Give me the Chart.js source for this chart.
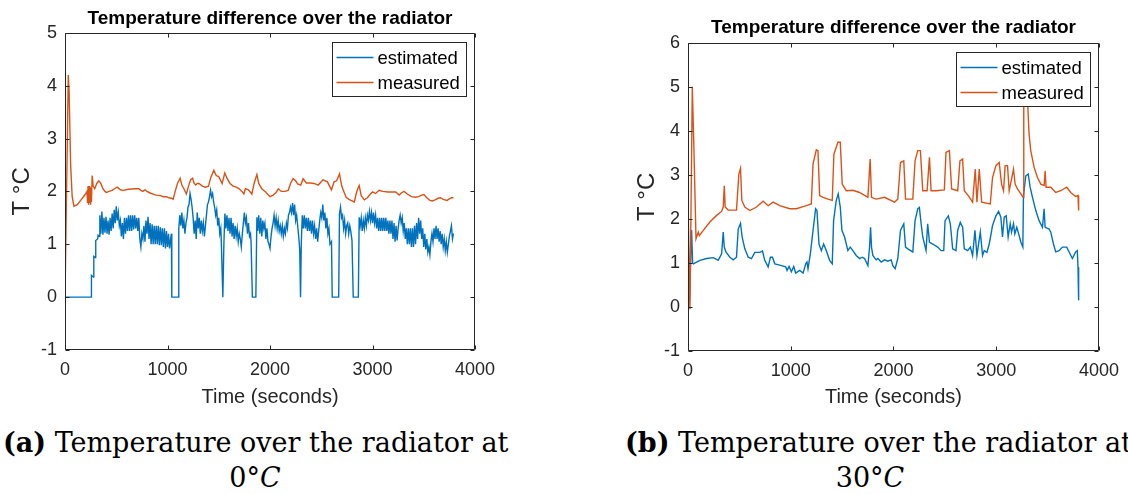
<!DOCTYPE html>
<html>
<head>
<meta charset="utf-8">
<script src="https://cdn.jsdelivr.net/npm/chart.js@4.4.1/dist/chart.umd.min.js"></script>
<style>
html,body{margin:0;padding:0;background:#fff;width:1128px;height:494px;overflow:hidden;position:relative;}
.panel{position:absolute;top:0;width:564px;height:420px;}
#panelA{left:0;}
#panelB{left:564px;}
.cap{position:absolute;font-family:"DejaVu Serif",serif;font-size:27px;line-height:30px;color:#000;white-space:nowrap;}
.cap.mid{text-align:center;width:200px;}
</style>
</head>
<body>
<div class="panel" id="panelA"><canvas id="chartA" width="564" height="420"></canvas></div>
<div class="panel" id="panelB"><canvas id="chartB" width="564" height="420"></canvas></div>
<div class="cap" style="left:3px;top:428px;"><b>(a)</b> Temperature over the radiator at</div>
<div class="cap mid" style="left:155px;top:463px;">0°<i>C</i></div>
<div class="cap" style="left:625px;top:428px;"><b>(b)</b> Temperature over the radiator at</div>
<div class="cap mid" style="left:770px;top:463px;">30°<i>C</i></div>
<script>
// [time (s), delta T (°C)] samples, run at 0 °C
const estA = [
  [0,0],[255,0],[258,0.41],[278,0.38],[281,0.77],[296,0.75],[300,1.07],[318,1.1],[323,1.17],[333,1.15],
  [340,1.55],[350,1.2],[360,1.62],[370,1.18],[380,1.5],[390,1.22],[400,1.52],[410,1.2],[420,1.45],[430,1.18],
  [440,1.5],[450,1.25],[460,1.58],[470,1.3],[480,1.65],[490,1.4],[500,1.72],[510,1.45],[520,1.6],[530,1.35],
  [540,1.45],[550,1.15],[560,1.4],[570,1.1],[580,1.5],[590,1.2],[600,1.5],[610,1.25],[620,1.55],[630,1.25],
  [640,1.55],[650,1.25],[660,1.55],[670,1.28],[680,1.55],[690,1.3],[700,1.5],[710,1.25],[720,1.5],[730,1.1],
  [740,0.95],[750,1.2],[760,1.1],[770,1.35],[780,1.05],[790,1.45],[800,1.2],[810,1.52],[820,1.1],[830,1.4],
  [840,1.0],[850,1.38],[860,1.0],[870,1.35],[880,1.0],[890,1.35],[900,1.0],[910,1.35],[920,0.98],[930,1.32],
  [940,0.98],[950,1.3],[960,0.95],[970,1.3],[980,0.92],[990,1.25],[1000,0.95],[1010,1.2],[1020,0.92],[1030,1.1],
  [1038,1.2],[1042,0],[1105,0],[1110,1.3],[1120,1.55],[1130,1.35],[1140,1.6],[1150,1.3],[1160,1.45],[1170,1.2],
  [1180,1.4],[1190,1.5],[1200,1.7],[1210,1.75],[1220,1.96],[1230,1.85],[1240,1.7],[1250,1.5],[1260,1.2],[1270,1.45],
  [1280,1.1],[1290,1.6],[1300,1.3],[1310,1.5],[1320,1.2],[1330,1.45],[1340,1.25],[1350,1.4],[1360,1.15],[1370,1.35],
  [1380,1.55],[1390,1.75],[1400,1.8],[1410,1.9],[1420,2.02],[1430,1.9],[1440,1.96],[1450,1.8],[1460,1.7],[1470,1.55],
  [1480,1.65],[1490,1.35],[1500,1.5],[1510,1.2],[1520,1.3],[1525,1.05],[1540,0],[1550,1.0],[1560,1.58],[1570,1.3],
  [1580,1.55],[1590,1.25],[1600,1.5],[1610,1.2],[1620,1.5],[1630,1.15],[1640,1.4],[1650,1.1],[1660,1.35],[1670,1.15],
  [1680,1.3],[1690,1.05],[1700,1.2],[1710,1.1],[1720,0.95],[1730,1.2],[1740,1.4],[1750,1.6],[1760,1.4],[1770,1.5],
  [1780,1.2],[1790,1.4],[1800,1.15],[1810,1.2],[1815,1.05],[1828,0],[1862,0],[1872,1.51],[1880,1.25],[1890,1.55],
  [1900,1.2],[1910,1.5],[1920,1.15],[1930,1.45],[1940,1.3],[1950,1.4],[1960,1.1],[1970,1.3],[1980,1.05],[1990,1.0],
  [2000,0.92],[2010,1.15],[2020,1.3],[2030,1.4],[2040,1.55],[2050,1.35],[2060,1.5],[2070,1.3],[2080,1.45],[2090,1.25],
  [2100,1.35],[2110,1.2],[2120,1.35],[2130,1.15],[2140,1.3],[2150,1.2],[2160,1.4],[2170,1.3],[2180,1.55],[2190,1.6],
  [2200,1.7],[2210,1.6],[2220,1.78],[2230,1.55],[2240,1.75],[2250,1.45],[2260,1.55],[2270,1.35],[2280,1.15],[2290,0.9],
  [2298,0],[2305,1.0],[2315,1.55],[2325,1.3],[2335,1.55],[2345,1.3],[2355,1.5],[2365,1.25],[2375,1.5],[2385,1.25],
  [2395,1.45],[2405,1.2],[2415,1.45],[2425,1.2],[2435,1.35],[2445,1.1],[2455,1.3],[2465,1.05],[2475,1.25],[2485,1.45],
  [2495,1.6],[2505,1.5],[2515,1.75],[2525,1.45],[2535,1.6],[2545,1.3],[2555,1.5],[2565,1.2],[2575,1.3],[2585,1.0],
  [2600,1.05],[2607,0],[2670,0],[2678,1.58],[2688,1.7],[2698,1.5],[2708,1.55],[2718,1.3],[2728,1.45],[2738,1.2],
  [2748,1.35],[2758,1.4],[2768,1.2],[2778,1.35],[2788,1.25],[2800,1.07],[2812,0],[2862,0],[2870,1.51],[2880,1.35],
  [2890,1.5],[2900,1.25],[2910,1.45],[2920,1.3],[2930,1.5],[2940,1.35],[2950,1.55],[2960,1.45],[2970,1.62],[2980,1.45],
  [2990,1.6],[3000,1.4],[3010,1.6],[3020,1.4],[3030,1.55],[3040,1.3],[3050,1.5],[3060,1.25],[3070,1.5],[3080,1.25],
  [3090,1.5],[3100,1.25],[3110,1.5],[3120,1.25],[3130,1.5],[3140,1.25],[3150,1.45],[3160,1.2],[3170,1.45],[3180,1.2],
  [3190,1.45],[3200,1.1],[3210,1.4],[3220,1.05],[3230,1.35],[3240,1.07],[3250,1.3],[3260,1.45],[3270,1.55],[3280,1.4],
  [3290,1.5],[3300,1.25],[3310,1.4],[3320,1.1],[3330,1.3],[3340,1.0],[3350,1.3],[3360,1.0],[3370,1.3],[3380,0.95],
  [3390,1.3],[3400,0.95],[3410,1.35],[3420,1.0],[3430,1.4],[3440,1.1],[3450,1.5],[3460,1.2],[3470,1.45],[3480,1.1],
  [3490,1.3],[3500,0.95],[3510,1.2],[3520,0.9],[3530,1.1],[3540,0.85],[3550,0.95],[3560,0.8],[3570,1.05],[3580,1.2],
  [3590,1.05],[3600,1.3],[3610,1.1],[3620,1.35],[3630,1.1],[3640,1.3],[3650,1.05],[3660,1.25],[3670,1.0],[3680,1.2],
  [3690,0.95],[3700,1.1],[3710,0.88],[3720,1.05],[3730,0.85],[3740,1.0],[3750,1.15],[3760,1.25],[3770,1.35],[3780,1.1],
  [3790,1.2]
];
const measA = [
  [0,0],[32,4.2],[40,3.9],[55,2.5],[70,1.9],[87,1.72],[120,1.75],[160,1.85],[200,1.95],[215,2.0],
  [220,1.78],[225,2.1],[230,1.75],[235,2.1],[240,1.78],[245,2.08],[250,1.75],[255,2.05],[258,1.8],[265,2.3],
  [275,2.1],[290,2.05],[310,2.15],[330,2.2],[350,2.15],[370,2.05],[390,2.0],[403,1.98],[430,2.0],[460,2.02],
  [490,2.06],[510,2.08],[540,2.03],[570,2.02],[620,2.04],[680,2.05],[720,2.05],[740,2.02],[760,2.0],[780,2.03],
  [800,2.0],[830,1.97],[860,1.95],[890,1.93],[930,1.92],[960,1.9],[990,1.9],[1010,1.88],[1040,1.87],[1055,1.85],
  [1075,2.0],[1097,2.15],[1123,2.25],[1140,2.12],[1160,2.05],[1184,1.95],[1205,2.1],[1226,2.22],[1245,2.25],[1260,2.15],
  [1275,2.12],[1290,2.15],[1307,2.15],[1340,2.1],[1370,2.08],[1400,2.1],[1420,2.25],[1452,2.4],[1475,2.3],[1500,2.28],
  [1520,2.2],[1533,2.15],[1559,2.35],[1580,2.25],[1610,2.15],[1640,2.1],[1670,2.08],[1700,2.05],[1726,2.0],[1745,1.95],
  [1760,2.05],[1790,2.03],[1823,1.95],[1845,2.15],[1872,2.32],[1890,2.15],[1920,2.05],[1952,2.0],[1975,1.95],[2001,1.9],
  [2030,1.93],[2060,1.98],[2081,2.05],[2110,2.0],[2146,2.0],[2178,2.02],[2200,2.15],[2226,2.24],[2250,2.2],[2270,2.14],
  [2300,2.12],[2323,2.24],[2355,2.16],[2390,2.16],[2430,2.15],[2470,2.12],[2517,2.22],[2560,2.18],[2600,2.03],[2625,2.18],
  [2650,2.2],[2678,2.33],[2700,2.1],[2720,2.0],[2743,1.89],[2770,1.85],[2790,1.83],[2823,1.8],[2840,1.95],[2856,2.05],
  [2870,2.11],[2890,1.92],[2920,1.84],[2950,1.88],[2980,1.95],[3001,1.99],[3030,1.96],[3065,2.02],[3100,2.0],[3150,1.99],
  [3227,1.99],[3260,1.93],[3280,1.97],[3307,2.0],[3340,1.95],[3380,1.9],[3420,1.89],[3450,1.9],[3480,1.93],[3501,1.94],
  [3530,1.88],[3560,1.83],[3582,1.82],[3610,1.84],[3640,1.87],[3662,1.88],[3690,1.85],[3727,1.83],[3750,1.86],[3770,1.88],
  [3790,1.88]
];

// [time (s), delta T (°C)] samples, run at 30 °C
const estB = [
  [0,0],[15,0.2],[35,1.75],[45,1.0],[52,0.98],[116,1.06],[181,1.1],[246,1.12],[294,1.06],[327,1.21],
  [343,1.7],[353,1.36],[369,1.25],[408,1.13],[440,1.07],[472,1.13],[489,1.77],[511,1.9],[527,1.59],[553,1.32],
  [586,1.13],[618,1.1],[650,1.24],[699,1.24],[725,1.27],[747,1.06],[780,0.91],[802,1.13],[822,1.13],[845,0.98],
  [893,0.95],[951,0.91],[964,0.83],[984,0.92],[1006,0.8],[1029,0.92],[1048,0.77],[1087,0.83],[1120,0.77],[1146,0.98],
  [1158,1.02],[1168,0.87],[1191,1.21],[1217,1.74],[1242,2.23],[1255,2.19],[1275,1.43],[1298,1.28],[1320,1.43],[1346,1.28],
  [1378,1.06],[1404,0.98],[1417,1.96],[1443,2.42],[1462,2.57],[1482,2.27],[1498,1.74],[1524,1.59],[1556,1.28],[1579,1.36],
  [1605,1.28],[1637,1.17],[1670,1.1],[1696,1.13],[1718,1.1],[1751,0.94],[1767,1.36],[1777,1.81],[1786,1.36],[1799,1.17],
  [1831,1.07],[1848,1.1],[1880,1.02],[1913,1.07],[1945,1.04],[1977,1.07],[1994,0.94],[2016,0.87],[2042,1.1],[2068,1.74],
  [2100,1.89],[2117,1.36],[2139,1.32],[2188,1.25],[2210,1.96],[2236,2.23],[2252,2.26],[2269,1.89],[2285,1.59],[2317,1.28],
  [2333,1.89],[2350,1.47],[2382,1.43],[2430,1.36],[2463,1.28],[2489,1.28],[2502,1.96],[2534,2.07],[2553,1.89],[2576,1.32],
  [2608,1.28],[2625,1.74],[2650,1.92],[2673,1.81],[2689,1.32],[2722,1.28],[2748,1.36],[2770,1.17],[2793,1.74],[2812,1.17],
  [2845,1.7],[2867,1.17],[2883,1.28],[2909,1.24],[2932,1.43],[2964,1.85],[2997,2.07],[3023,2.17],[3045,2.04],[3061,1.59],
  [3078,2.04],[3097,2.07],[3116,1.59],[3136,1.89],[3149,1.7],[3168,1.89],[3181,1.66],[3200,1.81],[3223,1.62],[3240,1.47],
  [3259,1.36],[3265,2.53],[3288,2.98],[3311,3.02],[3330,2.72],[3353,2.49],[3385,2.19],[3417,1.96],[3450,1.81],[3466,2.23],
  [3476,1.81],[3515,1.77],[3531,1.7],[3557,1.43],[3579,1.25],[3612,1.28],[3644,1.36],[3686,1.36],[3718,1.21],[3741,1.1],
  [3773,1.25],[3789,1.28],[3796,0.9],[3802,0.15]
];
const measB = [
  [0,2.5],[19,-0.05],[42,5.0],[58,3.55],[78,1.55],[100,1.7],[110,1.62],[149,1.74],[213,1.93],[278,2.08],
  [327,2.17],[343,2.27],[353,2.75],[362,2.27],[391,2.2],[472,2.2],[495,3.02],[511,3.15],[524,2.42],[553,2.27],
  [602,2.19],[667,2.27],[731,2.4],[780,2.3],[828,2.38],[893,2.3],[990,2.23],[1055,2.23],[1152,2.3],[1200,2.34],
  [1217,3.25],[1249,3.57],[1265,3.55],[1281,2.53],[1314,2.49],[1362,2.45],[1404,2.42],[1420,3.47],[1459,3.74],[1482,3.74],
  [1501,2.79],[1540,2.64],[1605,2.65],[1670,2.6],[1751,2.49],[1773,3.36],[1786,2.49],[1831,2.45],[1913,2.49],[2010,2.38],
  [2042,2.45],[2068,3.28],[2100,3.32],[2117,2.45],[2188,2.45],[2210,3.32],[2236,3.55],[2262,3.55],[2285,2.64],[2327,2.64],
  [2350,3.4],[2366,2.64],[2414,2.64],[2495,2.66],[2511,3.51],[2544,3.55],[2566,2.68],[2625,2.64],[2647,3.32],[2673,3.36],
  [2689,2.64],[2728,2.53],[2770,2.38],[2796,3.13],[2812,2.38],[2835,3.13],[2858,2.38],[2942,2.34],[2964,2.94],[2997,3.21],
  [3029,3.28],[3052,2.79],[3071,2.64],[3087,3.21],[3110,3.21],[3126,2.64],[3152,2.94],[3168,3.13],[3184,2.79],[3207,2.68],
  [3240,2.57],[3262,2.49],[3268,5.2],[3300,5.0],[3312,4.3],[3320,3.92],[3336,3.55],[3369,3.17],[3401,2.94],[3434,2.79],
  [3466,2.76],[3476,3.09],[3485,2.72],[3531,2.72],[3579,2.6],[3628,2.64],[3686,2.72],[3725,2.6],[3773,2.51],[3796,2.53],
  [3802,2.19]
];

const seriesNames = ['estimated', 'measured'];
const seriesColors = ['#0072BD', '#D95319'];
const timeTicks = [0, 1000, 2000, 3000, 4000];
const plotTitle = 'Temperature difference over the radiator';

Chart.defaults.font.family = '"Liberation Sans", Arial, Helvetica, sans-serif';
Chart.defaults.color = '#262626';

const toXY = arr => arr.map(p => ({x: p[0], y: p[1]}));

// box round the axes, inward ticks on all four sides, legend in the top right corner
const matlabFrame = {
  id: 'matlabFrame',
  afterDatasetsDraw(chart, args, opts) {
    const {ctx, chartArea: a, scales: {x, y}} = chart;
    const L = Math.round(a.left) + 0.5, R = Math.round(a.right) - 0.5;
    const T = Math.round(a.top) + 0.5, B = Math.round(a.bottom) - 0.5;
    ctx.save();
    ctx.strokeStyle = '#262626';
    ctx.lineWidth = 1;
    ctx.beginPath();
    ctx.rect(L, T, R - L, B - T);
    const tl = 4;
    x.ticks.forEach(t => {
      const px = Math.round(x.getPixelForValue(t.value)) + 0.5;
      ctx.moveTo(px, B); ctx.lineTo(px, B - tl);
      ctx.moveTo(px, T); ctx.lineTo(px, T + tl);
    });
    y.ticks.forEach(t => {
      const py = Math.round(y.getPixelForValue(t.value)) + 0.5;
      ctx.moveTo(L, py); ctx.lineTo(L + tl, py);
      ctx.moveTo(R, py); ctx.lineTo(R - tl, py);
    });
    ctx.stroke();

    // legend
    const bw = opts.width, bh = opts.height;
    const bx = Math.round(a.right - opts.inset - bw) + 0.5;
    const by = Math.round(a.top + opts.inset) + 0.5;
    ctx.fillStyle = '#fff';
    ctx.fillRect(bx, by, bw, bh);
    ctx.strokeStyle = '#262626';
    ctx.strokeRect(bx, by, bw, bh);
    ctx.font = opts.fontSize + 'px ' + Chart.defaults.font.family;
    ctx.textBaseline = 'middle';
    ctx.textAlign = 'left';
    chart.data.datasets.forEach((ds, i) => {
      const cy = by + opts.rowTop + i * opts.rowGap;
      ctx.strokeStyle = ds.borderColor;
      ctx.lineWidth = 1.3;
      ctx.beginPath();
      ctx.moveTo(bx + 4, cy); ctx.lineTo(bx + 41, cy);
      ctx.stroke();
      ctx.fillStyle = '#000';
      ctx.fillText(ds.label, bx + 45, cy + 1);
    });
    ctx.restore();
  }
};

function buildChart(id, est, meas, yMax, lay) {
  return new Chart(document.getElementById(id), {
    type: 'line',
    data: {
      datasets: [
        {label: seriesNames[0], data: toXY(est), borderColor: seriesColors[0], order: 1},
        {label: seriesNames[1], data: toXY(meas), borderColor: seriesColors[1], order: 0}
      ]
    },
    options: {
      responsive: false,
      animation: false,
      events: [],
      elements: {
        line: {borderWidth: 1.4, tension: 0, fill: false},
        point: {radius: 0, hoverRadius: 0}
      },
      layout: {padding: lay.padding},
      scales: {
        x: {
          type: 'linear', min: 0, max: 4000,
          afterBuildTicks: s => { s.ticks = timeTicks.map(v => ({value: v})); },
          afterFit: s => { s.height = lay.xHeight; },
          grid: {display: false, drawTicks: false},
          border: {display: false},
          ticks: {color: '#262626', font: {size: 18}, padding: 9, maxRotation: 0, callback: v => String(v)},
          title: {display: true, text: 'Time (seconds)', color: '#262626', font: {size: 20}, padding: {top: 0, bottom: 11}}
        },
        y: {
          type: 'linear', min: -1, max: yMax,
          afterFit: s => { s.width = lay.yWidth; },
          grid: {display: false, drawTicks: false},
          border: {display: false},
          ticks: {stepSize: 1, color: '#262626', font: {size: 18}, padding: 8, callback: v => String(v)},
          title: {display: true, text: 'T °C', color: '#262626', font: {size: 24}, padding: {top: lay.yTitlePad, bottom: 0}}
        }
      },
      plugins: {
        legend: {display: false},
        tooltip: {enabled: false},
        title: {
          display: true, text: plotTitle, fullSize: false, color: '#000',
          font: {size: 19, weight: 'bold'}, padding: lay.titlePad
        },
        matlabFrame: {width: 134, height: 54, inset: 9, rowTop: 15, rowGap: 25, fontSize: 18.5}
      }
    },
    plugins: [matlabFrame]
  });
}

buildChart('chartA', estA, measA, 5, {
  padding: {left: 0, right: 89, top: 1, bottom: 0},
  xHeight: 70, yWidth: 65, yTitlePad: 8, titlePad: {top: 6, bottom: 3}
});
buildChart('chartB', estB, measB, 6, {
  padding: {left: 60, right: 28, top: 0, bottom: 0},
  xHeight: 69, yWidth: 64, yTitlePad: 9, titlePad: {top: 16, bottom: 4}
});
</script>
</body>
</html>
